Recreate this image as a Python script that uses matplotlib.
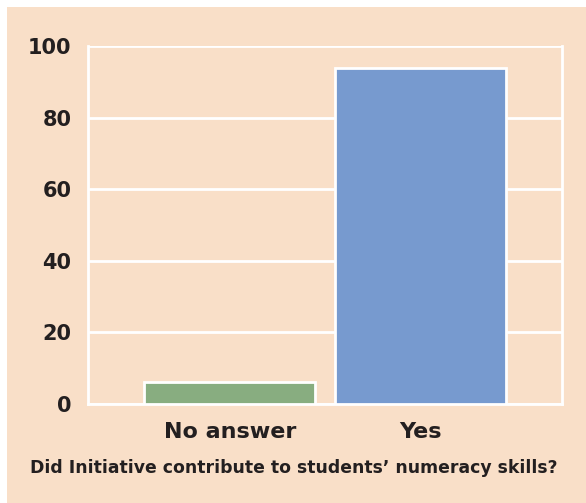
import matplotlib
matplotlib.use("Agg")
import matplotlib.pyplot as plt
from matplotlib.patches import Rectangle

# data ------------------------------------------------------------------
categories = ["No answer", "Yes"]
percent = [6.25, 93.75]
bar_colors = ["#88ad80", "#779acf"]
yticks = [0, 20, 40, 60, 80, 100]
question = "Did Initiative contribute to students\u2019 numeracy skills?"

# style -----------------------------------------------------------------
BG = "#f9dfc8"
TXT = "#231f20"
plt.rcParams["font.family"] = ["DejaVu Sans"]

W, H = 586, 503
fig = plt.figure(figsize=(W / 100, H / 100), dpi=100, facecolor=BG)

# thin white strip top/left
fig.add_artist(Rectangle((0, 1 - 7 / H), 1, 7 / H, transform=fig.transFigure,
                         facecolor="white", edgecolor="none"))
fig.add_artist(Rectangle((0, 0), 7 / W, 1, transform=fig.transFigure,
                         facecolor="white", edgecolor="none"))

ax = fig.add_axes([88 / W, 1 - 404 / H, (562 - 88) / W, (404 - 46) / H])
ax.set_facecolor(BG)

x = range(len(categories))
ax.bar(x, percent, width=0.9, color=bar_colors, edgecolor="white",
       linewidth=2, zorder=3)

ax.set_xlim(-0.745, 1.745)
ax.set_ylim(0, 100)
ax.set_yticks(yticks)
ax.yaxis.grid(True, color="white", linewidth=2, zorder=1)
ax.set_axisbelow(True)

for s in ["left", "right", "bottom", "top"]:
    ax.spines[s].set_color("white")
    ax.spines[s].set_linewidth(2)
ax.spines["top"].set_visible(False)

ax.set_xticks(list(x))
ax.set_xticklabels(categories)
ax.tick_params(axis="both", length=0, colors=TXT)
ax.tick_params(axis="y", pad=12, labelsize=15)
ax.tick_params(axis="x", pad=13, labelsize=16)
for lab in ax.get_xticklabels() + ax.get_yticklabels():
    lab.set_fontweight("bold")

fig.text(30 / W, 1 - 468 / H, question, ha="left", va="center",
         fontsize=12.4, fontweight="bold", color=TXT)

fig.savefig("out.png", dpi=100, facecolor=fig.get_facecolor())
